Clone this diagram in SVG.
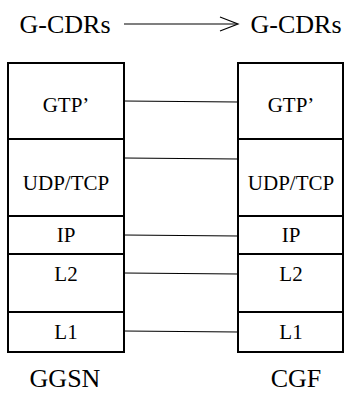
<svg xmlns="http://www.w3.org/2000/svg" width="346" height="398" viewBox="0 0 346 398">
<style>
.box{fill:#fff;stroke:#000;stroke-width:2}
.div{stroke:#000;stroke-width:2}
text{font-family:'Liberation Serif','Times New Roman',serif;fill:#000;text-anchor:middle}
.t{font-size:21px}
.big{font-size:26px}
.c{stroke:#000;stroke-width:1.2;fill:none}
</style>
<rect width="346" height="398" fill="#fff"/>
<g id="title-left"><text class="big" x="65" y="33">G-CDRs</text></g>
<g id="title-right"><text class="big" x="296" y="33">G-CDRs</text></g>
<g id="ggsn">
<rect class="box" x="8" y="63" width="116" height="289"/>
<line class="div" x1="8" y1="139" x2="124" y2="139"/>
<line class="div" x1="8" y1="216" x2="124" y2="216"/>
<line class="div" x1="8" y1="254" x2="124" y2="254"/>
<line class="div" x1="8" y1="312" x2="124" y2="312"/>
<text class="t" x="66" y="112">GTP’</text>
<text class="t" x="66" y="190">UDP/TCP</text>
<text class="t" x="66" y="242">IP</text>
<text class="t" x="66" y="281">L2</text>
<text class="t" x="66" y="339">L1</text>
<text class="big" x="65" y="387">GGSN</text>
</g>
<g id="cgf">
<rect class="box" x="238" y="63" width="105" height="289"/>
<line class="div" x1="238" y1="139" x2="343" y2="139"/>
<line class="div" x1="238" y1="216" x2="343" y2="216"/>
<line class="div" x1="238" y1="254" x2="343" y2="254"/>
<line class="div" x1="238" y1="312" x2="343" y2="312"/>
<text class="t" x="291" y="112">GTP’</text>
<text class="t" x="291" y="190">UDP/TCP</text>
<text class="t" x="291" y="242">IP</text>
<text class="t" x="291" y="281">L2</text>
<text class="t" x="291" y="339">L1</text>
<text class="big" x="296" y="387">CGF</text>
</g>
<g id="connectors">
<line class="c" x1="124" y1="24" x2="237" y2="24"/>
<polyline class="c" points="220,17 238,24 220,31"/>
<line class="c" x1="124" y1="101" x2="238" y2="102"/>
<line class="c" x1="124" y1="158" x2="238" y2="159"/>
<line class="c" x1="124" y1="235" x2="238" y2="236"/>
<line class="c" x1="124" y1="273" x2="238" y2="274"/>
<line class="c" x1="124" y1="331" x2="238" y2="332"/>
</g>
</svg>
